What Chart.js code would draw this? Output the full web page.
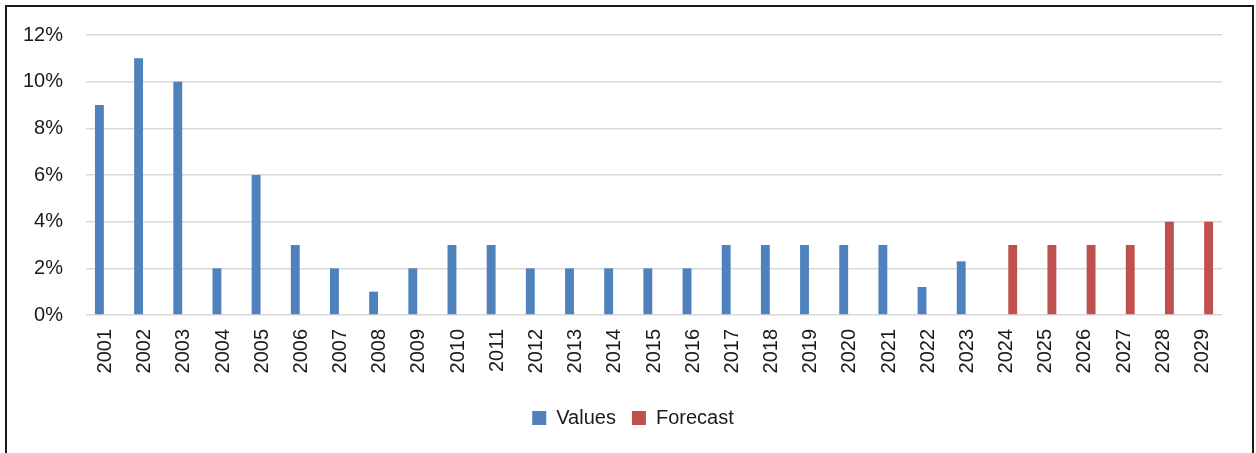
<!DOCTYPE html>
<html>
<head>
<meta charset="utf-8">
<script src="https://cdn.jsdelivr.net/npm/chart.js@4"></script>
<style>
  html, body { margin: 0; padding: 0; background: #fff; }
  #wrap { position: relative; width: 1256px; height: 453px; overflow: hidden; }
  #frame { position: absolute; left: 5px; top: 5px; width: 1245px; height: 470px; border: 2px solid #1a1a1a; pointer-events: none; }
  canvas { position: absolute; left: 0; top: 0; }
</style>
</head>
<body>
<div id="wrap">
  <canvas id="chart" width="1256" height="453"></canvas>
  <div id="frame"></div>
</div>
<script>
const years = ['2001', '2002', '2003', '2004', '2005', '2006', '2007', '2008', '2009', '2010',
    '2011', '2012', '2013', '2014', '2015', '2016', '2017', '2018', '2019', '2020',
    '2021', '2022', '2023', '2024', '2025', '2026', '2027', '2028', '2029'];

// 2001 - 2023
const values = [9, 11, 10, 2, 6, 3, 2, 1, 2, 3, 3, 2, 2, 2, 2, 2, 3, 3, 3, 3, 3, 1.2, 2.3];

// 2024 - 2029
const forecast = [3, 3, 3, 3, 4, 4];

const yTicks = [0, 2, 4, 6, 8, 10, 12];

const valuesData = values.concat(forecast.map(() => null));
const forecastData = values.map(() => null).concat(forecast);

const font = { family: "'Liberation Sans', Arial, sans-serif", size: 20 };

Chart.defaults.font.family = font.family;
Chart.defaults.color = '#1a1a1a';

// excel centres the legend under the plot area, not the whole canvas
const legendUnderPlot = {
    id: 'legendUnderPlot',
    beforeDraw(chart) {
        chart.legend.left = chart.chartArea.left - 42;
        chart.legend.right = chart.chartArea.right;
    }
};

const ctx = document.getElementById('chart').getContext('2d');
new Chart(ctx, {
    type: 'bar',
    data: {
        labels: years,
        datasets: [{
            label: 'Values',
            data: valuesData,
            backgroundColor: '#4f81bd',
            categoryPercentage: 0.63,
            barPercentage: 0.72
        }, {
            label: 'Forecast',
            data: forecastData,
            backgroundColor: '#c0504d',
            categoryPercentage: 0.63,
            barPercentage: 0.72
        }]
    },
    plugins: [legendUnderPlot],
    options: {
        responsive: false,
        animation: false,
        layout: {
            padding: { left: 0, right: 34, top: 35, bottom: 15 }
        },
        plugins: {
            tooltip: { enabled: false },
            legend: {
                position: 'bottom',
                labels: {
                    font: font,
                    boxWidth: 14,
                    boxHeight: 14,
                    padding: 16
                }
            }
        },
        scales: {
            x: {
                grid: { display: false },
                border: { display: false },
                ticks: {
                    font: font,
                    minRotation: 90,
                    maxRotation: 90,
                    autoSkip: false,
                    padding: 6
                },
                afterFit: s => { s.height = 77; }
            },
            y: {
                min: 0,
                max: 12,
                afterBuildTicks: s => { s.ticks = yTicks.map(v => ({ value: v })); },
                grid: { color: '#d9d9d9', lineWidth: 1.5, drawTicks: false },
                border: { display: false },
                ticks: {
                    font: font,
                    padding: 23,
                    callback: v => v + '%'
                },
                afterFit: s => { s.width = 86; }
            }
        }
    }
});
</script>
</body>
</html>
